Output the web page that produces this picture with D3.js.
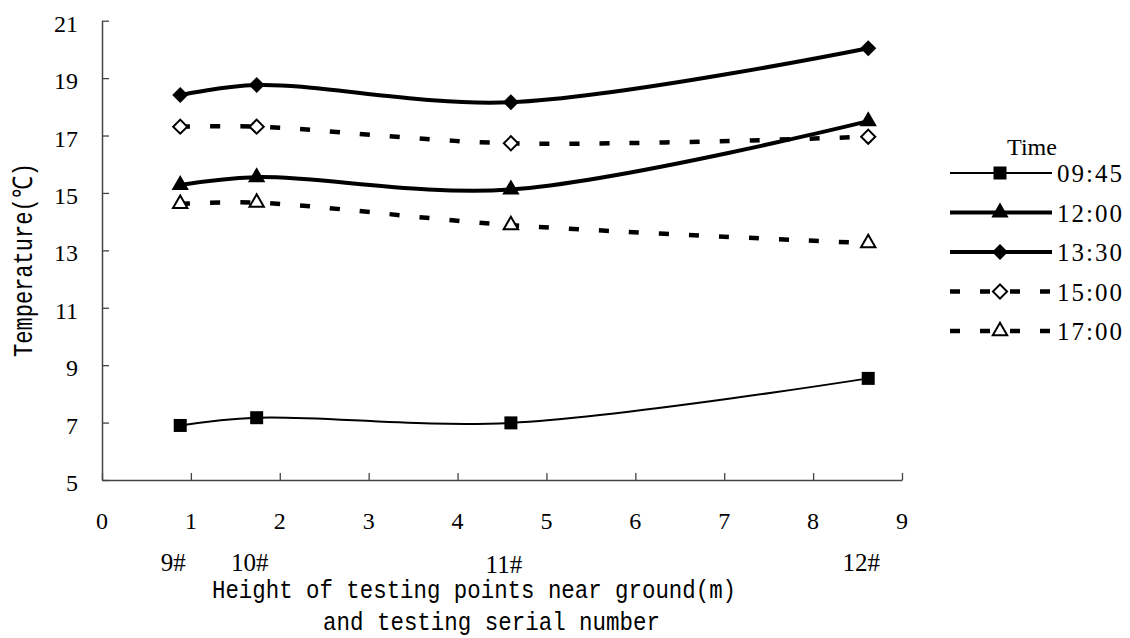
<!DOCTYPE html>
<html lang="en">
<head>
<meta charset="UTF-8">
<script src="https://d3js.org/d3.v7.min.js"></script>
<style>
    body { margin: 0; background: #fff; }
    svg text { fill: #000; }
</style>
<title>Temperature</title>
</head>
<body>
<svg width="1130" height="638"></svg>
<script>
    // heights (m) of testing points 9#, 10#, 11#, 12#
    const heights = [0.88, 1.74, 4.6, 8.62];
    const serialLabels = ['9#', '10#', '11#', '12#'];

    // temperature at each point for each time
    const t0945 = [6.9, 7.17, 6.99, 8.54];
    const t1200 = [15.28, 15.55, 15.12, 17.5];
    const t1330 = [18.41, 18.76, 18.16, 20.04];
    const t1500 = [17.31, 17.31, 16.73, 16.96];
    const t1700 = [14.62, 14.66, 13.88, 13.25];

    const timeNames = ['09:45', '12:00', '13:30', '15:00', '17:00'];
    const xTicks = [0, 1, 2, 3, 4, 5, 6, 7, 8, 9];
    const yTicks = [5, 7, 9, 11, 13, 15, 17, 19, 21];

    const SERIF = '"Liberation Serif", "Times New Roman", serif';
    const MONO = '"Liberation Mono", "Courier New", monospace';

    // line / marker styles per series
    const styles = [
        { values: t0945, width: 2, dash: null, shape: 'square', fill: '#000', size: 169 },
        { values: t1200, width: 4, dash: null, shape: 'triangle', fill: '#000', size: 130 },
        { values: t1330, width: 4, dash: null, shape: 'diamond', fill: '#000', size: 128 },
        { values: t1500, width: 4.5, dash: '10,20', shape: 'diamond', fill: '#fff', size: 100 },
        { values: t1700, width: 4.5, dash: '10,20', shape: 'triangle', fill: '#fff', size: 90 }
    ];

    const svg = d3.select('svg');

    const xScale = d3.scaleLinear().domain([0, 9]).range([102, 902]);
    const yScale = d3.scaleLinear().domain([5, 21]).range([480, 20.7]);

    // axes: ticks point inward
    const axisColor = '#444';
    const xAxis = svg.append('g').attr('transform', 'translate(0,480)')
        .call(d3.axisBottom(xScale).tickValues(xTicks).tickSizeInner(-7).tickSizeOuter(0).tickFormat(''));
    const yAxis = svg.append('g').attr('transform', 'translate(102,0)')
        .call(d3.axisLeft(yScale).tickValues(yTicks).tickSizeInner(-7).tickSizeOuter(0).tickFormat(''));
    [xAxis, yAxis].forEach(a => {
        a.select('.domain').attr('stroke', axisColor).attr('stroke-width', 1.5);
        a.selectAll('.tick line').attr('stroke', axisColor).attr('stroke-width', 1.3);
    });

    // tick labels
    svg.append('g').selectAll('text').data(yTicks).join('text')
        .attr('x', 78).attr('y', d => yScale(d) + 11)
        .attr('text-anchor', 'end')
        .attr('font-family', SERIF).attr('font-size', 24)
        .text(d => d);
    svg.append('g').selectAll('text').data(xTicks).join('text')
        .attr('x', d => xScale(d)).attr('y', 529)
        .attr('text-anchor', 'middle')
        .attr('font-family', SERIF).attr('font-size', 24)
        .text(d => d);

    // serial numbers under the axis
    svg.append('g').selectAll('text').data(serialLabels).join('text')
        .attr('x', (d, i) => xScale(heights[i]) - 7)
        .attr('y', (d, i) => i === 2 ? 573 : 571)
        .attr('text-anchor', 'middle')
        .attr('font-family', SERIF).attr('font-size', 25)
        .text(d => d);

    // axis titles
    svg.append('text')
        .attr('x', 212).attr('y', 598)
        .attr('textLength', 524).attr('lengthAdjust', 'spacingAndGlyphs')
        .attr('font-family', MONO).attr('font-size', 26)
        .text('Height of testing points near ground(m)');
    svg.append('text')
        .attr('x', 323).attr('y', 630)
        .attr('textLength', 337).attr('lengthAdjust', 'spacingAndGlyphs')
        .attr('font-family', MONO).attr('font-size', 26)
        .text('and testing serial number');
    svg.append('text')
        .attr('transform', 'translate(32,260) rotate(-90)')
        .attr('text-anchor', 'middle')
        .attr('textLength', 194).attr('lengthAdjust', 'spacingAndGlyphs')
        .attr('font-family', MONO).attr('font-size', 27)
        .text('Temperature(℃)');

    function markerPath(shape, size) {
        if (shape === 'triangle') return d3.symbol(d3.symbolTriangle, size)();
        return d3.symbol(d3.symbolSquare, size)();
    }
    function drawMarker(g, s, x, y) {
        g.append('path')
            .attr('d', markerPath(s.shape, s.size))
            .attr('transform', `translate(${x},${y})` + (s.shape === 'diamond' ? ' rotate(45)' : ''))
            .attr('fill', s.fill)
            .attr('stroke', '#000')
            .attr('stroke-width', s.fill === '#fff' ? 2 : 0);
    }

    const line = d3.line()
        .x((d, i) => xScale(heights[i]))
        .y(d => yScale(d))
        .curve(d3.curveCatmullRom.alpha(0.5));

    const plot = svg.append('g');
    styles.forEach(s => {
        plot.append('path')
            .attr('d', line(s.values))
            .attr('fill', 'none')
            .attr('stroke', '#000')
            .attr('stroke-width', s.width)
            .attr('stroke-dasharray', s.dash);
    });
    styles.forEach(s => {
        const g = plot.append('g');
        s.values.forEach((v, i) => drawMarker(g, s, xScale(heights[i]), yScale(v)));
    });

    // legend
    const legend = svg.append('g');
    legend.append('text')
        .attr('x', 1032).attr('y', 155)
        .attr('text-anchor', 'middle')
        .attr('font-family', SERIF).attr('font-size', 24)
        .text('Time');
    const rowY = d3.scalePoint().domain(timeNames).range([173, 331]);
    styles.forEach((s, i) => {
        const y = rowY(timeNames[i]);
        legend.append('line')
            .attr('x1', 950).attr('x2', 1052).attr('y1', y).attr('y2', y)
            .attr('stroke', '#000')
            .attr('stroke-width', s.width)
            .attr('stroke-dasharray', s.dash);
        drawMarker(legend, s, 1000, y);
        legend.append('text')
            .attr('x', 1057).attr('y', y + 9)
            .attr('textLength', 65).attr('lengthAdjust', 'spacing')
            .attr('font-family', SERIF).attr('font-size', 25)
            .text(timeNames[i]);
    });
</script>
</body>
</html>
